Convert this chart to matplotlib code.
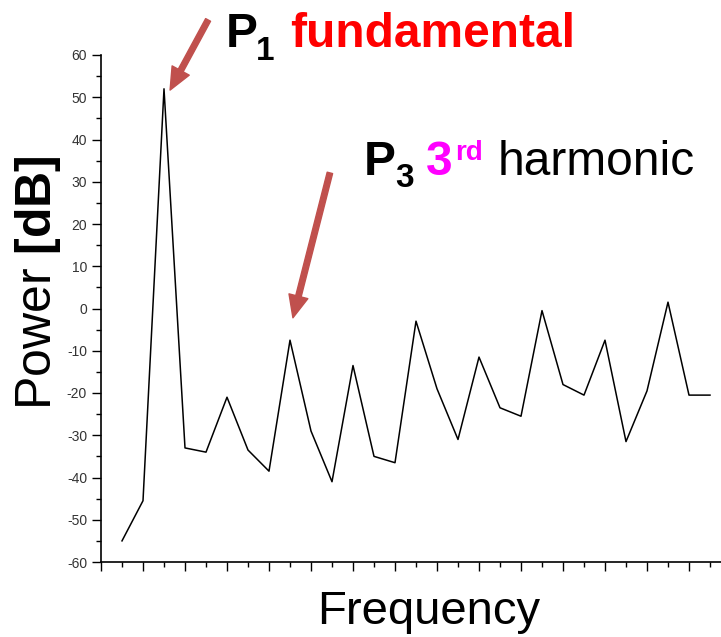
import numpy as np
from matplotlib import pyplot as plt
from matplotlib.ticker import MultipleLocator

plt.rcParams['font.family'] = ['Liberation Sans', 'DejaVu Sans']
plt.rcParams['axes.unicode_minus'] = False
plt.rcParams['mathtext.fontset'] = 'custom'
plt.rcParams['mathtext.rm'] = 'Liberation Sans'
plt.rcParams['mathtext.bf'] = 'Liberation Sans:bold'

# spectrum values, one per frequency bin
bins = np.arange(1, 30)
power = [-55, -45.5, 52, -33, -34, -21, -33.5, -38.5, -7.5, -29,
         -41, -13.5, -35, -36.5, -3, -19, -31, -11.5, -23.5, -25.5,
         -0.5, -18, -20.5, -7.5, -31.5, -19.5, 1.5, -20.5, -20.5]

W, H = 721, 637
fig = plt.figure(figsize=(W / 100, H / 100), dpi=100)
ax = fig.add_axes([101 / W, 75 / H, 29.5 * 21 / W, 507 / H])

ax.plot(bins, power, color='black', lw=1.1)

ax.set_xlim(0, 29.5)
ax.set_ylim(-60, 60)
ax.spines['top'].set_visible(False)
ax.spines['right'].set_visible(False)
for s in ('left', 'bottom'):
    ax.spines[s].set_linewidth(1.2)

ax.yaxis.set_major_locator(MultipleLocator(10))
ax.yaxis.set_minor_locator(MultipleLocator(5))
ax.xaxis.set_major_locator(MultipleLocator(2))
ax.xaxis.set_minor_locator(MultipleLocator(1))
ax.tick_params(which='major', direction='out', length=6.5, width=1.0,
               labelsize=10, labelcolor='#333333')
ax.tick_params(which='minor', direction='out', length=3.5, width=1.0)
ax.tick_params(axis='x', labelbottom=False)

red = '#C0504D'
arrow = dict(facecolor=red, edgecolor=red, width=4, headwidth=14,
             headlength=16, shrink=0)
ax.annotate('', xy=(3.29, 51.7), xytext=(5.1, 68.3), arrowprops=arrow,
            annotation_clip=False)
ax.annotate('', xy=(9.14, -2.2), xytext=(10.9, 32.1), arrowprops=arrow,
            annotation_clip=False)


def txt(x, y, s, size, color='black', weight='bold'):
    fig.text(x / W, 1 - y / H, s, fontsize=size, color=color,
             fontweight=weight, va='baseline', ha='left')


txt(226, 47, 'P', 34.5)
txt(256, 60, '1', 24)
txt(290, 47, 'fundamental', 34.5, color='#FF0000')
txt(364, 175, 'P', 34.5)
txt(395, 187, '3', 24)
txt(426, 175, '3', 34.5, color='#FF00FF')
txt(455, 160, 'rd', 20, color='#FF00FF')
txt(498, 175, 'harmonic', 34.5, weight='normal')

fig.text(38 / W, 1 - 283 / H, r'Power $\mathbf{[dB]}$', fontsize=36,
         rotation=90, ha='center', va='center')
fig.text(429 / W, 1 - 624 / H, 'Frequency', fontsize=34, ha='center',
         va='baseline')

fig.savefig('out.png', dpi=100)
